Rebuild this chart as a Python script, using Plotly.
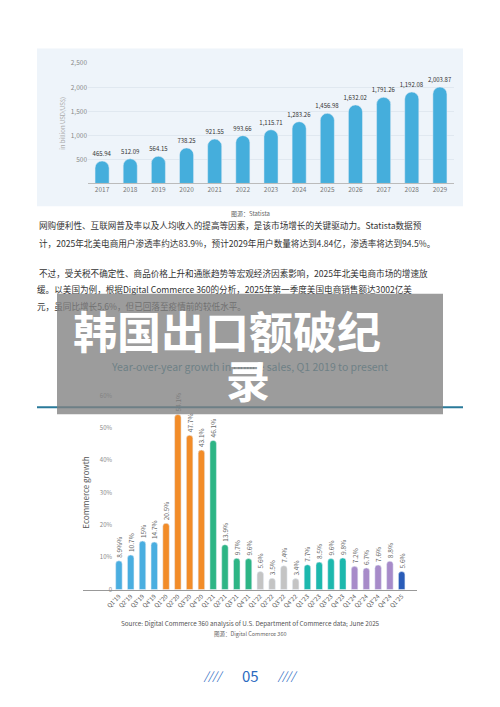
import plotly.graph_objects as go

W, H = 500, 707
def px(x): return x / W
def py(y): return 1 - y / H

years = ["2017","2018","2019","2020","2021","2022","2023","2024","2025","2026","2027","2028","2029"]
sales = [465.94, 512.09, 564.15, 738.25, 921.55, 993.66, 1115.71, 1283.26, 1456.98, 1632.02, 1791.26, 1900, 2003.87]
sales_labels = ["465.94","512.09","564.15","738.25","921.55","993.66","1,115.71","1,283.26","1,456.98","1,632.02","1,791.26","1,192.08","2,003.87"]

quarters = ["Q1'19","Q2'19","Q3'19","Q4'19","Q1'20","Q2'20","Q3'20","Q4'20","Q1'21","Q2'21","Q3'21","Q4'21",
            "Q1'22","Q2'22","Q3'22","Q4'22","Q1'23","Q2'23","Q3'23","Q4'23","Q1'24","Q2'24","Q3'24","Q4'24","Q1'25"]
growth = [8.9, 10.7, 15, 14.7, 20.5, 54.1, 47.7, 43.1, 46.1, 13.9, 9.7, 9.6, 5.6, 3.5, 7.4, 3.4, 7.7, 8.5, 9.6, 9.8, 7.2, 6.7, 7.6, 8.8, 5.6]
growth_labels = ["8.9%%","10.7%","15%","14.7%","20.5%","54.1%","47.7%","43.1%","46.1%","13.9%","9.7%","9.6%","5.6%","3.5%","7.4%","3.4%","7.7%","8.5%","9.6%","9.8%","7.2%","6.7%","7.6%","8.8%","5.6%"]
year_colors = {"19":"#4aaee0","20":"#f28c28","21":"#2db585","22":"#c4c4c4","23":"#1cb8ad","24":"#a78bc9","25":"#2a5cb8"}
colors = [year_colors[q[-2:]] for q in quarters]

covered_text = ["缓。以美国为例，根据Digital Commerce 360的分析，2025年第一季度美国电商销售额达3002亿美",
                "元，虽同比增长5.6%，但已回落至疫情前的较低水平。"]

fig = go.Figure()
fig.add_trace(go.Bar(x=years, y=sales, text=sales_labels, textposition="outside", constraintext="none",
                     textfont=dict(size=6, color="#333"), marker=dict(color="#45aedc", cornerradius=7),
                     width=0.5, cliponaxis=False, xaxis="x", yaxis="y"))
fig.add_trace(go.Bar(x=list(range(len(quarters))), y=growth, text=growth_labels, textposition="outside",
                     constraintext="none", textangle=-90, textfont=dict(size=6.5, color="#666"),
                     marker=dict(color=colors, cornerradius=4),
                     width=0.55, cliponaxis=False, xaxis="x2", yaxis="y2"))
fig.add_trace(go.Scatter(x=[37, 37], y=[289, 306], text=covered_text, mode="text", textposition="middle right",
                         textfont=dict(size=8.6, color="#333"), hoverinfo="skip", xaxis="x3", yaxis="y3",
                         cliponaxis=False))
fig.add_trace(go.Scatter(x=[250], y=[368], text=["Year-over-year growth in online sales, Q1 2019 to present"],
                         mode="text", textposition="middle center", textfont=dict(size=10.5, color="#2a7f98"),
                         hoverinfo="skip", xaxis="x3", yaxis="y3", cliponaxis=False))

fig.update_layout(
    width=W, height=H, margin=dict(l=0, r=0, t=0, b=0), showlegend=False,
    paper_bgcolor="white", plot_bgcolor="rgba(0,0,0,0)",
    font=dict(family="Noto Sans CJK SC, Noto Sans", color="#333"),
    xaxis=dict(domain=[px(88), px(454)], anchor="y", tickfont=dict(size=6.5, color="#777"),
               showline=True, linecolor="#bbb", ticks=""),
    yaxis=dict(domain=[py(180), py(58)], range=[0, 2500], tickvals=[500,1000,1500,2000,2500],
               tickformat=",", tickfont=dict(size=6.5, color="#888"), gridcolor="#e0e8f0", zeroline=False,
               title=dict(text="in billion USD(US$)", font=dict(size=6, color="#aaa"), standoff=4)),
    xaxis2=dict(domain=[px(83), px(417)], anchor="y2", range=[-3.05, 25.3],
                tickvals=list(range(len(quarters))), ticktext=quarters, tickangle=-45,
                tickfont=dict(size=6, color="#555"), showline=True, linecolor="#999", ticks="", showgrid=False),
    yaxis2=dict(domain=[py(592), py(395)], range=[0, 60], anchor="free", position=px(112),
                tickvals=[0,10,20,30,40,50,60], ticktext=["0","10%","20%","30%","40%","50%","60%"],
                tickfont=dict(size=6, color="#888"), showgrid=False, zeroline=False,
                title=dict(text="Ecommerce growth", font=dict(size=8, color="#555"), standoff=8)),
    xaxis3=dict(domain=[0, 1], range=[0, W], visible=False, anchor="y3"),
    yaxis3=dict(domain=[0, 1], range=[H, 0], visible=False, anchor="x3"),
)

shapes = [
    dict(type="rect", xref="paper", yref="paper", x0=px(37), x1=px(463), y0=py(203), y1=py(43),
         fillcolor="#eef4fa", line_width=0, layer="below"),
    dict(type="line", xref="paper", yref="paper", x0=px(37), x1=px(463), y0=py(407), y1=py(407),
         line=dict(color="#2a7a9a", width=2), layer="above"),
    dict(type="rect", xref="paper", yref="paper", x0=px(57), x1=px(443), y0=py(414), y1=py(292),
         fillcolor="rgba(128,128,128,0.78)", line_width=0, layer="above"),
]
fig.update_layout(shapes=shapes)

ann = []
def t(x, y, s, size=9, color="#333", anchor="left", **kw):
    ann.append(dict(x=px(x), y=py(y), xref="paper", yref="paper", text=s, showarrow=False,
                    xanchor=anchor, yanchor="middle", font=dict(size=size, color=color), **kw))

t(250, 210, "图源：Statista", 6, "#666", "center")
t(37, 222, "网购便利性、互联网普及率以及人均收入的提高等因素，是该市场增长的关键驱动力。Statista数据预", 8.6)
t(37, 240, "计，2025年北美电商用户渗透率约达83.9%，预计2029年用户数量将达到4.84亿，渗透率将达到94.5%。", 8.6)
t(37, 271, "不过，受关税不确定性、商品价格上升和通胀趋势等宏观经济因素影响，2025年北美电商市场的增速放", 8.6)
t(250, 626, "Source: Digital Commerce 360 analysis of U.S. Department of Commerce data; June 2025", 6.3, "#555", "center")
t(250, 637, "图源：Digital Commerce 360", 5.5, "#666", "center")
t(213, 679, "<i>////</i>", 11, "#2a6ac0", "center")
t(250, 679, "05", 15, "#2a6ac0", "center")
t(287, 679, "<i>////</i>", 11, "#2a6ac0", "center")
t(227, 329, "<b>韩国出口额破纪</b>", 44, "white", "center")
t(248, 378, "<b>录</b>", 44, "white", "center")
fig.update_layout(annotations=ann)

fig.write_html("out.html", config={"displayModeBar": False},
               post_script="document.body.style.margin='0';document.body.style.overflow='hidden';")
